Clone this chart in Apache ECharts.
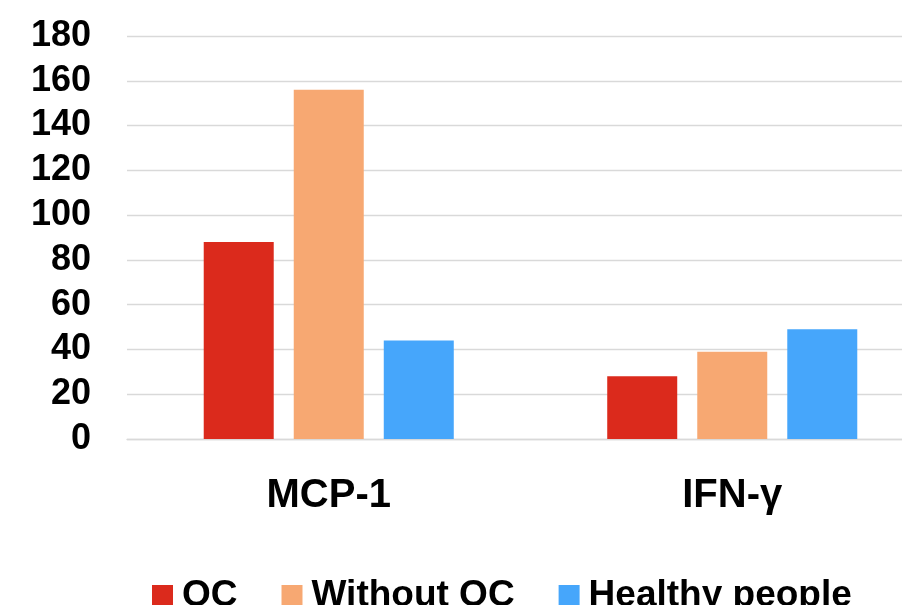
<!DOCTYPE html>
<html>
<head>
<meta charset="utf-8">
<script src="https://cdn.jsdelivr.net/npm/echarts@6/dist/echarts.min.js"></script>
<style>html,body{margin:0;padding:0;background:#fff}#c{width:902px;height:605px}</style>
</head>
<body>
<div id="c"></div>
<script>
const categories = ['MCP-1', 'IFN-γ'];
const seriesNames = ['OC', 'Without OC', 'Healthy people'];
const ocValues = [88, 28];
const withoutOcValues = [156, 39];
const healthyValues = [44, 49];
const yTicks = [0, 20, 40, 60, 80, 100, 120, 140, 160, 180];

const colors = ['#DB2A1C', '#F7A872', '#46A6FB'];
const chart = echarts.init(document.getElementById('c'), null, {renderer: 'canvas'});
const font = 'Liberation Sans, Arial, sans-serif';
const mk = (name, data, color) => ({
  name, type: 'bar', data, barWidth: 70, barGap: '28.6%',
  itemStyle: {color}
});
chart.setOption({
  animation: false,
  backgroundColor: '#fff',
  color: colors,
  grid: {left: 127, width: 807, top: 36, height: 403, outerBoundsMode: 'none', containLabel: false},
  legend: {
    left: 147, top: 572, itemWidth: 21, itemHeight: 21, itemGap: 44,
    icon: 'rect',
    textStyle: {fontFamily: font, fontWeight: 'bold', fontSize: 37, color: '#000', padding: [0, 0, 0, 4]},
    data: seriesNames
  },
  xAxis: {
    type: 'category', data: categories,
    axisLine: {lineStyle: {color: '#d9d9d9', width: 1.3}},
    axisTick: {show: false},
    axisLabel: {fontFamily: font, fontWeight: 'bold', fontSize: 40, color: '#000', margin: 37}
  },
  yAxis: {
    type: 'value', min: yTicks[0], max: yTicks[yTicks.length - 1], interval: yTicks[1] - yTicks[0],
    axisLine: {show: false}, axisTick: {show: false},
    splitLine: {lineStyle: {color: '#d9d9d9', width: 1.3}},
    axisLabel: {fontFamily: font, fontWeight: 'bold', fontSize: 36, lineHeight: 36, color: '#000', margin: 36, padding: [7, 0, 0, 0]}
  },
  series: [
    mk(seriesNames[0], ocValues, colors[0]),
    mk(seriesNames[1], withoutOcValues, colors[1]),
    mk(seriesNames[2], healthyValues, colors[2])
  ]
});
</script>
</body>
</html>
